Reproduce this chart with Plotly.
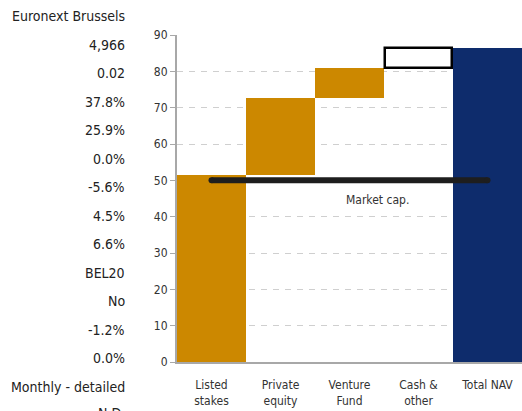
import plotly.graph_objects as go

categories = ["Listed<br>stakes", "Private<br>equity", "Venture<br>Fund", "Cash &<br>other", "Total NAV"]
increments = [51.5, 21.1, 8.3, 5.4]
total_nav = 86.3
market_cap = 50
y_ticks = [0, 10, 20, 30, 40, 50, 60, 70, 80, 90]

side_labels = ["Euronext Brussels", "4,966", "0.02", "37.8%", "25.9%", "0.0%", "-5.6%",
               "4.5%", "6.6%", "BEL20", "No", "-1.2%", "0.0%", "Monthly - detailed", "N.D."]

FONT = "DejaVu Sans Condensed, Liberation Sans Narrow, Arial Narrow, sans-serif"
GOLD = "#CC8800"
NAVY = "#0E2C6C"

# floating bars
bases = []
acc = 0
for v in increments:
    bases.append(acc)
    acc += v

xs = list(range(len(categories)))

fig = go.Figure()
fig.add_trace(go.Bar(x=xs[:3], y=increments[:3], base=bases[:3], width=1,
                     marker=dict(color=GOLD, line=dict(width=0)), showlegend=False))
fig.add_trace(go.Bar(x=[xs[3]], y=[increments[3]], base=[bases[3]], width=0.97,
                     marker=dict(color="white", line=dict(color="black", width=2.5)), showlegend=False))
fig.add_trace(go.Bar(x=[xs[4]], y=[total_nav], base=[0], width=1,
                     marker=dict(color=NAVY, line=dict(width=0)), showlegend=False))
fig.add_trace(go.Scatter(x=[xs[0], xs[4]], y=[market_cap, market_cap], mode="lines+markers",
                         line=dict(color="#1e1e1e", width=6),
                         marker=dict(color="#1e1e1e", size=6, line=dict(width=0)),
                         showlegend=False, hoverinfo="skip"))

fig.add_annotation(x=2.4, y=44.6, xref="x", yref="y", text="Market cap.", showarrow=False,
                   font=dict(family=FONT, size=12, color="#333333"))

W_PLOT = 345.0
H_PLOT = 327.0
L = 177.0
BOTTOM = 362.0
ys_px = [16 + i * 28.54 for i in range(len(side_labels) - 1)] + [413]
for txt, ypx in zip(side_labels, ys_px):
    fig.add_annotation(x=(127 - L) / W_PLOT, y=(BOTTOM - ypx) / H_PLOT, xref="paper", yref="paper",
                       text=txt, showarrow=False, xanchor="right", yanchor="middle",
                       font=dict(family=FONT, size=14, color="#222222"))

fig.update_layout(
    width=522, height=411,
    margin=dict(l=177, r=0, t=35, b=49),
    paper_bgcolor="white", plot_bgcolor="white",
    bargap=0,
    font=dict(family=FONT, size=12, color="#333333"),
    xaxis=dict(tickmode="array", tickvals=xs, ticktext=categories, range=[-0.5, 4.5],
               showgrid=False, showline=True, linecolor="#a8a8a8", linewidth=2,
               ticks="outside", ticklen=11, tickcolor="rgba(0,0,0,0)",
               tickfont=dict(family=FONT, size=12, color="#333333"), zeroline=False),
    yaxis=dict(range=[0, 90], tickvals=y_ticks, showgrid=True, gridcolor="#cfcfcf",
               griddash="6px,6px", gridwidth=1, showline=True, linecolor="#a8a8a8", linewidth=2,
               ticks="outside", ticklen=5, tickcolor="#a8a8a8", zeroline=False,
               tickfont=dict(family=FONT, size=12, color="#333333")),
)

fig.write_html("out.html", config={"displayModeBar": False},
               post_script="document.body.style.margin='0';document.body.style.overflow='hidden';")
